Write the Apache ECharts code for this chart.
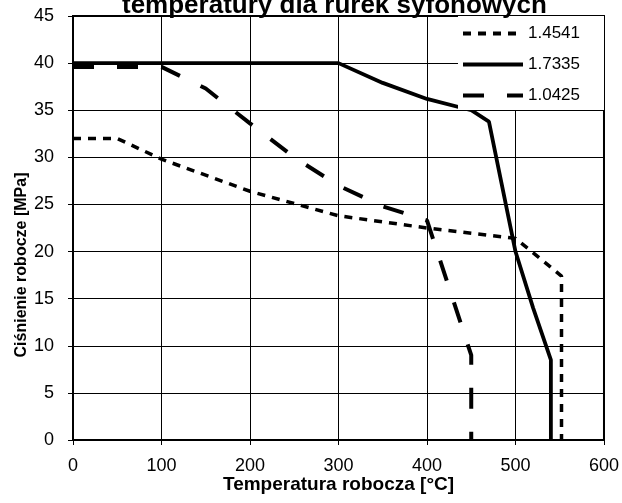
<!DOCTYPE html>
<html>
<head>
<meta charset="utf-8">
<script src="https://cdn.jsdelivr.net/npm/echarts@6/dist/echarts.min.js"></script>
<style>
  html, body { margin: 0; padding: 0; background: #fff; }
  #chart { width: 622px; height: 503px; }
</style>
</head>
<body>
<div id="chart"></div>
<script>
const titleText = 'temperatury dla rurek syfonowych'
const xName = 'Temperatura robocza [°C]'
const yName = 'Ciśnienie robocze [MPa]'
const seriesNames = ['1.4541', '1.7335', '1.0425']

// temperatura [°C] / ciśnienie [MPa]
const temp14541 = [0, 50, 100, 200, 300, 400, 500, 552, 552]
const pres14541 = [32, 32, 29.8, 26.4, 23.8, 22.5, 21.4, 17.4, 0]

const temp17335 = [0, 300, 350, 400, 450, 470, 500, 520, 540, 540]
const pres17335 = [40, 40, 37.9, 36.2, 35, 33.8, 20, 14, 8.5, 0]

const temp10425 = [0, 100, 150, 200, 250, 300, 350, 400, 450, 450]
const pres10425 = [39.6, 39.6, 37.3, 33.6, 30, 27, 24.8, 23.3, 9, 0]

const pairs = (xs, ys) => xs.map((x, i) => [x, ys[i]])

const font = 'Liberation Sans, Arial, sans-serif'
const chart = echarts.init(document.getElementById('chart'))

chart.setOption({
  animation: false,
  textStyle: { fontFamily: font, color: '#000' },
  title: {
    text: titleText,
    left: 122,
    top: -7,
    padding: 0,
    textStyle: { fontSize: 26, fontWeight: 'bold', color: '#000', fontFamily: font }
  },
  legend: {
    data: seriesNames,
    orient: 'vertical',
    right: 18,
    top: 16,
    backgroundColor: '#fff',
    padding: [9, 24, 6, 3],
    itemWidth: 60,
    itemHeight: 14,
    itemGap: 14,
    itemStyle: { opacity: 0, borderWidth: 0 },
    lineStyle: { width: 4 },
    textStyle: { fontSize: 17, color: '#000', fontFamily: font }
  },
  grid: {
    left: 73,
    right: 17,
    top: 16,
    bottom: 63,
    show: true,
    borderColor: '#000',
    borderWidth: 2
  },
  xAxis: {
    type: 'value',
    min: 0,
    max: 600,
    interval: 100,
    name: xName,
    nameLocation: 'middle',
    nameGap: 35,
    nameMoveOverlap: false,
    nameTextStyle: { fontSize: 19, fontWeight: 'bold', color: '#000' },
    axisLine: { lineStyle: { color: '#000', width: 2 } },
    axisTick: { show: true, length: 5, lineStyle: { color: '#000', width: 1 } },
    axisLabel: { fontSize: 18, color: '#000', margin: 17 },
    splitLine: { show: true, lineStyle: { color: '#000', width: 1 } }
  },
  yAxis: {
    type: 'value',
    min: 0,
    max: 45,
    interval: 5,
    name: yName,
    nameLocation: 'middle',
    nameGap: 43,
    nameMoveOverlap: false,
    nameRotate: 90,
    nameTextStyle: { fontSize: 16, fontWeight: 'bold', color: '#000', padding: [0, 74, 0, 0] },
    axisLine: { show: true, lineStyle: { color: '#000', width: 2 } },
    axisTick: { show: true, length: 5, lineStyle: { color: '#000', width: 1 } },
    axisLabel: { fontSize: 18, color: '#000', margin: 19 },
    splitLine: { show: true, lineStyle: { color: '#000', width: 1 } }
  },
  series: [
    {
      name: seriesNames[0], type: 'line', symbol: 'none',
      data: pairs(temp14541, pres14541),
      lineStyle: { color: '#000', width: 3.5, type: [8, 7] },
      itemStyle: { color: '#000' }
    },
    {
      name: seriesNames[1], type: 'line', symbol: 'none',
      data: pairs(temp17335, pres17335),
      lineStyle: { color: '#000', width: 3.8, type: 'solid' },
      itemStyle: { color: '#000' }
    },
    {
      name: seriesNames[2], type: 'line', symbol: 'none',
      data: pairs(temp10425, pres10425),
      lineStyle: { color: '#000', width: 4, type: [21, 23] },
      itemStyle: { color: '#000' }
    }
  ]
})
</script>
</body>
</html>
